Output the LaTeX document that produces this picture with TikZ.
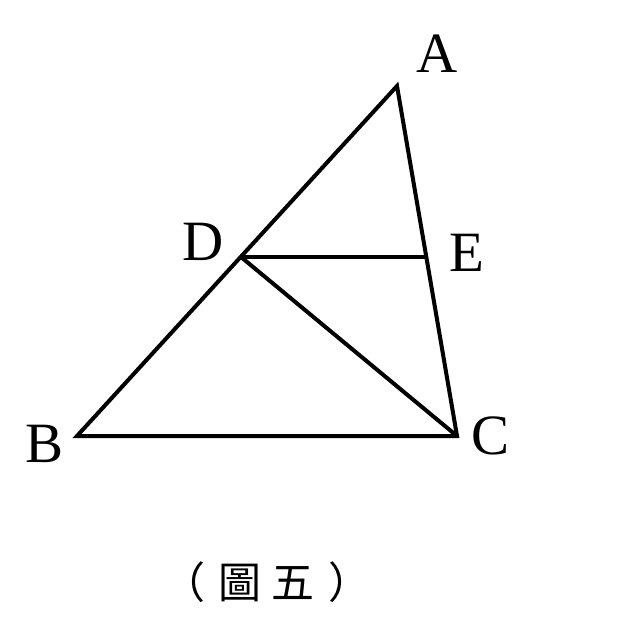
\documentclass[tikz,border=0pt]{standalone}
\usepackage{fontspec}
\setmainfont{Liberation Serif}
\newfontfamily\cjkfont{Noto Sans CJK TC}
\begin{document}
\begin{tikzpicture}[x=1pt,y=-1pt,
  edge/.style={line width=4pt,line join=miter},
  lbl/.style={font=\fontsize{57}{60}\selectfont,anchor=base,inner sep=0pt}]
\useasboundingbox (0,0) rectangle (620,620);
\coordinate (A) at (397,86);
\coordinate (B) at (77,436);
\coordinate (C) at (457,436);
\coordinate (D) at (241,257);
\coordinate (E) at (427,257);
\draw[edge] (A) -- (B) -- (C) -- cycle;
\draw[edge] (D) -- (E);
\draw[edge] (D) -- (C);
\node[lbl] (la) at (437,73) {A};
\node[lbl] (lb) at (45,462) {B};
\node[lbl] (lc) at (491,454) {C};
\node[lbl] (ld) at (203,260) {D};
\node[lbl] (le) at (467,271) {E};
\node[font=\cjkfont\fontsize{43}{48}\selectfont,inner sep=0pt] (cap) at (267,582) {（\hspace{14pt}圖\hspace{10pt}五\hspace{14pt}）};
\end{tikzpicture}
\end{document}
